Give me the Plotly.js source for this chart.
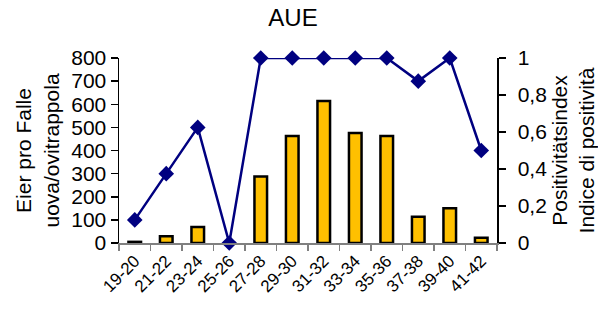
<!DOCTYPE html>
<html>
<head>
<meta charset="utf-8">
<script src="https://cdn.plot.ly/plotly-3.0.1.min.js"></script>
<style>html,body{margin:0;padding:0;background:#fff;}#chart{width:598px;height:312px;}</style>
</head>
<body>
<div id="chart"></div>
<script>
const categories = ["19-20","21-22","23-24","25-26","27-28","29-30","31-32","33-34","35-36","37-38","39-40","41-42"];
const eggs = [5, 29, 69, 0, 288, 463, 614, 476, 463, 114, 150, 23];
const positivity = [0.125, 0.375, 0.625, 0, 1, 1, 1, 1, 1, 0.875, 1, 0.5];
const leftTicks = [0, 100, 200, 300, 400, 500, 600, 700, 800];
const rightTicks = [0, 0.2, 0.4, 0.6, 0.8, 1];

const font = "Liberation Sans, Arial, sans-serif";

const traces = [
  {
    type: "bar", x: categories, y: eggs, yaxis: "y",
    width: 0.4,
    marker: {color: "#FFC000", line: {color: "#000000", width: 2.5}},
    hoverinfo: "skip"
  },
  {
    type: "scatter", mode: "lines+markers", x: categories, y: positivity, yaxis: "y2",
    line: {color: "#000080", width: 2.5},
    marker: {symbol: "diamond", size: 12, color: "#000080"},
    cliponaxis: false,
    hoverinfo: "skip"
  }
];

const layout = {
  width: 598, height: 312,
  margin: {l: 119, r: 101, t: 58, b: 69, pad: 0, autoexpand: false},
  paper_bgcolor: "#ffffff", plot_bgcolor: "#ffffff",
  separators: ",.",
  showlegend: false,
  font: {family: font, color: "#000", size: 21},
  title: {text: "AUE", x: 0.49, xref: "container", xanchor: "center", y: 0.945, yref: "container", yanchor: "middle", font: {family: font, size: 24, color: "#000"}},
  xaxis: {
    type: "category", tickson: "boundaries", automargin: false,
    range: [-0.5, categories.length - 0.5],
    showline: true, linecolor: "#808080", linewidth: 1.5,
    ticks: "outside", ticklen: 6, tickcolor: "#808080", tickwidth: 1.5,
    tickangle: -45, tickfont: {size: 17, family: font},
    showgrid: false, zeroline: false, fixedrange: true
  },
  yaxis: {
    range: [0, 800], tickvals: leftTicks, automargin: false,
    showline: true, linecolor: "#000", linewidth: 1.5,
    ticks: "outside", ticklen: 7, tickcolor: "#000", tickwidth: 1.5,
    tickfont: {size: 21, family: font},
    showgrid: false, zeroline: false,
    title: {text: "Eier pro Falle<br>uova/ovitrappola", font: {size: 21, family: font}, standoff: 6}
  },
  yaxis2: {
    range: [0, 1], tickvals: rightTicks, overlaying: "y", side: "right", automargin: false,
    showline: true, linecolor: "#000", linewidth: 1.5,
    ticks: "outside", ticklen: 7, tickcolor: "#000", tickwidth: 1.5,
    ticklabelstandoff: 8,
    tickfont: {size: 21, family: font},
    showgrid: false, zeroline: false,
    title: {text: "Positivitätsindex<br>Indice di positività", font: {size: 21, family: font}, standoff: 8}
  }
};

Plotly.newPlot("chart", traces, layout, {staticPlot: true, displayModeBar: false});
</script>
</body>
</html>
